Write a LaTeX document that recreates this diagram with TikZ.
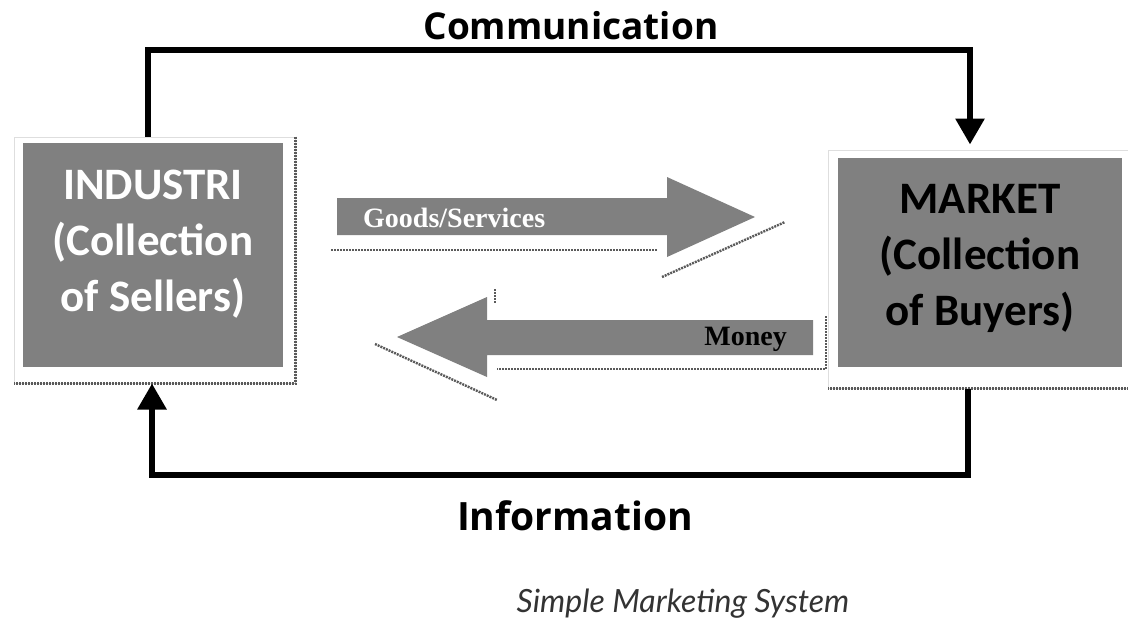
\documentclass[tikz,border=0pt]{standalone}
\usepackage{fontspec}
\setmainfont{Carlito}
\newfontfamily\boxfont{Carlito}
\newfontfamily\headfont{Open Sans}
\newfontfamily\captionfont{Lato}
\newfontfamily\seriffont{Liberation Serif}
\usetikzlibrary{arrows.meta}
\definecolor{boxgray}{RGB}{128,128,128}
\definecolor{shadowgray}{RGB}{90,90,90}
\definecolor{framegray}{RGB}{222,222,222}
\tikzset{
  frame/.style={draw=framegray, line width=1pt, fill=white, inner sep=0pt},
  panel/.style={fill=boxgray, draw=none, inner sep=0pt, align=center,
    font=\boxfont\bfseries\fontsize{45}{56}\selectfont},
  flow/.style={line width=6pt, -{Triangle[length=26pt,width=28pt]}},
  heading/.style={font=\headfont\bfseries\fontsize{37}{40}\selectfont, text=black},
  blockarrow/.style={fill=boxgray, draw=none},
  blockback/.style={fill=white, draw=none},
  shadowedge/.style={draw=shadowgray, line width=2.4pt, dash pattern=on 2pt off 1pt},
  arrowtext/.style={font=\seriffont\bfseries\fontsize{28}{30}\selectfont, inner sep=0pt}
}
\begin{document}
\begin{tikzpicture}[x=1pt,y=-1pt]
\useasboundingbox (0,0) rectangle (1128,622);

% Seller and buyer boxes: white frame with a dashed shadow edge, grey panel inside
\node[frame, minimum width=281pt, minimum height=246pt] (indframe) at (154.5,260) {};
\draw[shadowedge]
  (indframe.north east) -- (indframe.south east) -- (indframe.south west);
\node[panel, text=white, minimum width=260pt, minimum height=224pt] (ind) at (153,255) {};
\node[panel, fill=none, text=white] (indtext) at (153,244)
  {INDUSTRI\\(Collection\\of Sellers)};

\node[frame, minimum width=306pt, minimum height=238pt] (mktframe) at (981,269) {};
\draw[shadowedge] (mktframe.south east) -- (mktframe.south west);
\node[panel, text=black, minimum width=284pt, minimum height=209pt] (mkt) at (980,262.5) {};
\node[panel, fill=none, text=black] (mkttext) at (980,258)
  {MARKET\\(Collection\\of Buyers)};

% Communication loop on top, information loop below
\coordinate (c1) at (148,50);
\coordinate (c2) at (970,50);
\draw[flow] (indframe.north -| c1) -- (c1) -- (c2) -- ([yshift=5pt]mktframe.north -| c2);
\node[heading] (comm) at (571,26) {Communication};

\coordinate (i1) at (968,475);
\coordinate (i2) at (152,475);
\draw[flow] (mktframe.south -| i1) -- (i1) -- (i2) -- (indframe.south -| i2);
\node[heading, font=\headfont\bfseries\fontsize{39}{42}\selectfont] (info) at (575,516) {Information};

% Goods/Services block arrow, pointing to the market
\fill[blockback] (331,212) -- (660,212) -- (660,184) -- (785,222) -- (660,278)
  -- (660,250) -- (331,250) -- cycle;
\draw[shadowedge] (331,250) -- (657,250);
\draw[shadowedge] (662,277) -- (785,222);
\fill[blockarrow] (337,198) -- (667,198) -- (667,177) -- (755,217) -- (667,257)
  -- (667,235) -- (337,235) -- cycle;
\node[arrowtext, text=white, anchor=west] (goods) at (363,218) {Goods/Services};

% Money block arrow, pointing to the industry
\fill[blockback] (827,332) -- (497,332) -- (497,290) -- (373,345) -- (497,400)
  -- (497,370) -- (827,370) -- cycle;
\draw[shadowedge] (826,316) -- (826,369) -- (497,369);
\draw[shadowedge] (375,344) -- (497,400);
\draw[shadowedge] (495,289) -- (495,303);
\fill[blockarrow] (813,320) -- (487,320) -- (487,297) -- (397,337) -- (487,377)
  -- (487,355) -- (813,355) -- cycle;
\node[arrowtext, text=black, anchor=east] (money) at (787,339) {Money};

% Caption
\node[font=\captionfont\itshape\fontsize{32}{36}\selectfont, text=black!80] (caption)
  at (683,604) {Simple Marketing System};
\end{tikzpicture}
\end{document}
